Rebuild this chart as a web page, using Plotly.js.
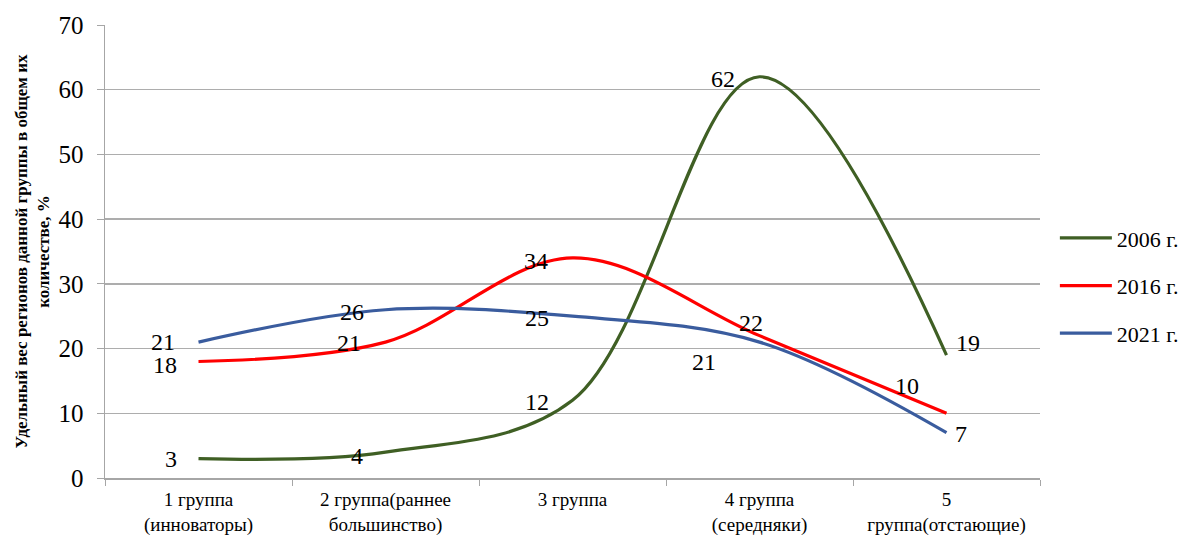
<!DOCTYPE html>
<html>
<head>
<meta charset="utf-8">
<script src="https://cdn.plot.ly/plotly-3.0.1.min.js"></script>
<style>html,body{margin:0;padding:0;background:#fff;}#chart{width:1196px;height:539px;}</style>
</head>
<body>
<div id="chart"></div>
<script>
const categories = ["1 группа<br>(инноваторы)", "2 группа(раннее<br>большинство)", "3 группа", "4 группа<br>(середняки)", "5<br>группа(отстающие)"];
const seriesNames = ["2006 г.", "2016 г.", "2021 г."];
const values2006 = [3, 4, 12, 62, 19];
const values2016 = [18, 21, 34, 22, 10];
const values2021 = [21, 26, 25, 21, 7];
const colors = ["#3F5F24", "#FF0000", "#3A5C9E"];
// label pixel offsets (style only)
const labelShifts = [
  [[-28,0],[-29,-4],[-36,-2],[-37,-2],[21,12]],
  [[-34,-3],[-37,-1],[-37,-3],[-9,13],[-40,27]],
  [[-36,0],[-34,-2],[-36,-2],[-56,-20],[14,-1]]
];
const allValues = [values2006, values2016, values2021];
const FONT = "Liberation Serif";

const traces = allValues.map((vals, i) => ({
  type: "scatter",
  mode: "lines",
  x: categories,
  y: vals,
  name: seriesNames[i],
  legendgroup: "g" + i,
  line: {color: colors[i], width: 3.2, shape: "spline", smoothing: 1},
  hoverinfo: "skip"
}));

const annotations = [];
allValues.forEach((vals, i) => {
  vals.forEach((v, j) => {
    annotations.push({
      x: categories[j], y: v, xref: "x", yref: "y",
      text: String(v), showarrow: false,
      xshift: labelShifts[i][j][0], yshift: labelShifts[i][j][1],
      font: {family: FONT, size: 24, color: "#000"}
    });
  });
});

const layout = {
  width: 1196, height: 539,
  margin: {l: 105, r: 156, t: 25, b: 61},
  paper_bgcolor: "#fff", plot_bgcolor: "#fff",
  font: {family: FONT, size: 16, color: "#000"},
  showlegend: true,
  legend: {
    xref: "container", yref: "container",
    x: 0.882, xanchor: "left", y: 0.47, yanchor: "middle",
    font: {family: FONT, size: 22, color: "#000"},
    itemwidth: 52,
    tracegroupgap: 16, bgcolor: "rgba(0,0,0,0)"
  },
  xaxis: {
    type: "category",
    range: [-0.5, 4.5],
    showgrid: false,
    showline: true, linecolor: "#A6A6A6", linewidth: 1.5,
    ticks: "outside", tickson: "boundaries", ticklen: 6, tickcolor: "#A6A6A6",
    ticklabelstandoff: 4,
    tickfont: {family: FONT, size: 19, color: "#000"},
    zeroline: false
  },
  yaxis: {
    range: [0, 70], dtick: 10, tick0: 0,
    showgrid: true, gridcolor: "#ADADAD", gridwidth: 1.3,
    showline: true, linecolor: "#A6A6A6", linewidth: 1.5,
    ticks: "outside", ticklen: 7, tickcolor: "#A6A6A6",
    ticklabelstandoff: 8,
    tickfont: {family: FONT, size: 25, color: "#000"},
    zeroline: false,
    title: {
      text: "<b>Удельный вес регионов данной группы в общем их<br>количестве, %</b>",
      font: {family: FONT, size: 17, color: "#000"},
      standoff: 4
    }
  },
  annotations: annotations
};

Plotly.newPlot("chart", traces, layout, {displayModeBar: false, staticPlot: true});
</script>
</body>
</html>
